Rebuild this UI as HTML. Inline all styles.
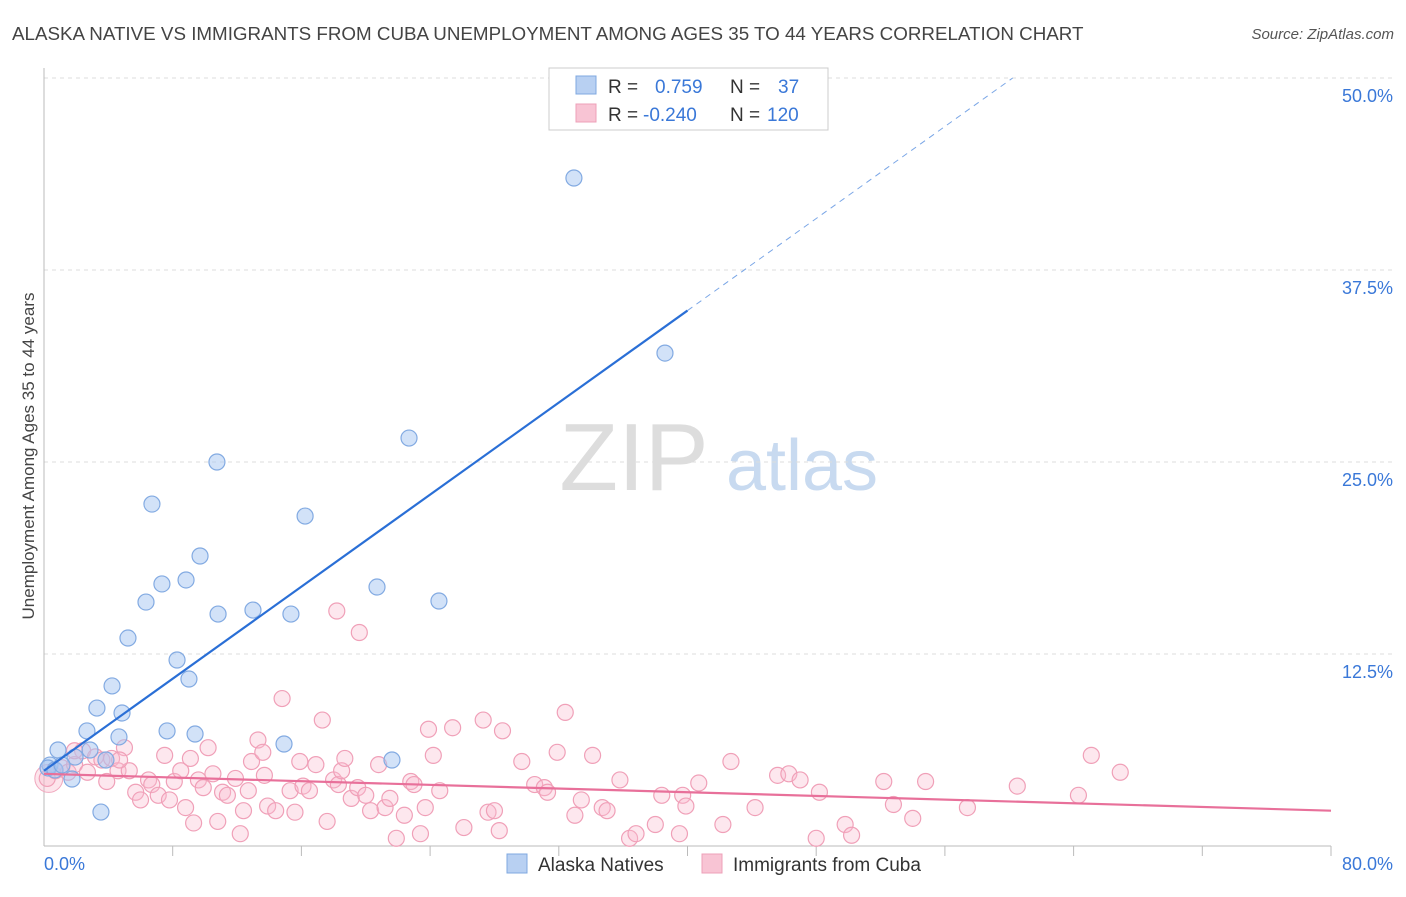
<!DOCTYPE html>
<html><head><meta charset="utf-8"><style>
body{margin:0;background:#fff;font-family:"Liberation Sans",sans-serif;}
svg text{font-family:"Liberation Sans",sans-serif;}
</style></head><body>
<svg id="chart" width="1406" height="892" xmlns="http://www.w3.org/2000/svg">
<text x="12" y="40" font-size="18.8" fill="#444">ALASKA NATIVE VS IMMIGRANTS FROM CUBA UNEMPLOYMENT AMONG AGES 35 TO 44 YEARS CORRELATION CHART</text>
<text x="1394" y="39" font-size="15" fill="#555" text-anchor="end" font-style="italic">Source: ZipAtlas.com</text>
<text transform="translate(34,456) rotate(-90)" font-size="17" fill="#444" text-anchor="middle">Unemployment Among Ages 35 to 44 years</text>
<g>
<text x="634" y="490" font-size="96" fill="#ddd" font-family="Liberation Serif" text-anchor="middle">ZIP</text>
<text x="802" y="490" font-size="72" fill="#c8daf0" text-anchor="middle">atlas</text>
</g>
<g id="grid"></g><g id="axes"></g><g id="pink"></g><g id="blue"></g><g id="lines"></g>
<g>
<rect x="549" y="68" width="279" height="62" fill="#fff" stroke="#ccc"/>
<rect x="576" y="76" width="20" height="18" fill="#b8d0f2" stroke="#7fa8e0"/>
<rect x="576" y="104" width="20" height="18" fill="#f8c4d4" stroke="#eea0b8"/>
<text x="608" y="93" font-size="19" fill="#333">R =</text><text x="655" y="93" font-size="19" fill="#3a78d8">0.759</text>
<text x="730" y="93" font-size="19" fill="#333">N =</text><text x="778" y="93" font-size="19" fill="#3a78d8">37</text>
<text x="608" y="121" font-size="19" fill="#333">R =</text><text x="643" y="121" font-size="19" fill="#3a78d8">-0.240</text>
<text x="730" y="121" font-size="19" fill="#333">N =</text><text x="767" y="121" font-size="19" fill="#3a78d8">120</text>
</g>
<g>
<rect x="507" y="854" width="20" height="19" fill="#b8d0f2" stroke="#7fa8e0"/>
<text x="538" y="871" font-size="19" fill="#333">Alaska Natives</text>
<rect x="702" y="854" width="20" height="19" fill="#f8c4d4" stroke="#eea0b8"/>
<text x="733" y="871" font-size="19" fill="#333">Immigrants from Cuba</text>
</g>
</svg>
<script>
const yTicks=[12.5,25,37.5,50];
const yTickLabels=["12.5%","25.0%","37.5%","50.0%"];
const xTickVals=[8,16,24,32,40,48,56,64,72,80];
const blueX=[0.37,0.87,1.74,1.93,2.67,3.29,3.54,3.85,4.23,4.66,4.85,5.22,6.34,6.71,7.33,7.65,8.27,8.83,9.01,9.39,9.70,10.75,10.82,12.99,14.92,15.35,16.23,20.70,21.63,22.69,24.55,32.94,38.60,0.25,0.68,2.86,1.12];
const blueY=[5.27,6.25,4.36,5.79,7.49,8.98,2.21,5.60,10.42,7.10,8.66,13.54,15.88,22.26,17.06,7.49,12.11,17.32,10.87,7.29,18.88,25.00,15.10,15.36,6.64,15.10,21.48,16.86,5.60,26.56,15.95,43.49,32.09,5.08,4.95,6.25,5.27];
const pinkX=[0.2,0.7,1.1,1.5,1.9,2.4,2.7,3.2,3.6,3.9,4.2,4.6,5.0,5.3,5.7,6.0,6.5,6.7,7.1,7.5,7.8,8.1,8.5,8.8,9.1,9.3,9.6,9.9,10.2,10.5,10.8,11.1,11.4,11.9,12.2,12.4,12.7,12.9,13.3,13.6,13.7,13.9,14.4,14.8,15.3,15.6,15.9,16.1,16.5,16.9,17.3,17.6,18.0,18.3,18.5,18.7,19.1,19.5,19.6,20.0,20.3,20.8,21.2,21.5,21.9,22.4,22.8,23.0,23.4,23.7,23.9,24.2,24.6,25.4,26.1,27.3,27.6,28.0,28.3,28.5,29.7,30.5,31.1,31.3,31.9,32.4,33.0,33.4,34.1,34.7,35.0,35.8,36.4,36.8,38.0,38.4,39.5,39.7,39.9,40.7,42.2,42.7,44.2,45.6,46.3,47.0,48.2,48.0,49.8,50.2,52.2,52.8,54.0,54.8,57.4,60.5,64.3,65.1,66.9,18.2,1.9,4.7];
const pinkY=[4.4,4.9,5.1,4.8,5.3,6.2,4.8,5.8,5.6,4.2,5.7,4.9,6.4,4.9,3.5,3.0,4.3,4.0,3.3,5.9,3.0,4.2,4.9,2.5,5.7,1.5,4.3,3.8,6.4,4.7,1.6,3.5,3.3,4.4,0.8,2.3,3.6,5.5,6.9,6.1,4.6,2.6,2.3,9.6,3.6,2.2,5.5,3.9,3.6,5.3,8.2,1.6,4.3,4.0,4.9,5.7,3.1,3.8,13.9,3.3,2.3,5.3,2.5,3.1,0.5,2.0,4.2,4.0,0.8,2.5,7.6,5.9,3.6,7.7,1.2,8.2,2.2,2.3,1.0,7.5,5.5,4.0,3.8,3.5,6.1,8.7,2.0,3.0,5.9,2.5,2.3,4.3,0.5,0.8,1.4,3.3,0.8,3.3,2.6,4.1,1.4,5.5,2.5,4.6,4.7,4.3,3.5,0.5,1.4,0.7,4.2,2.7,1.8,4.2,2.5,3.9,3.3,5.9,4.8,15.3,6.2,5.6];
const blueFit=[4.9,0.749];
const pinkFit=[4.7,-0.03];
const X0=44,X1=1331,Y0=846,Y50=78;
const sx=v=>X0+(v/80)*(X1-X0);
const sy=v=>Y0-(v/50)*(Y0-Y50);
const NS="http://www.w3.org/2000/svg";
function mk(tag,attrs,parent){const e=document.createElementNS(NS,tag);for(const k in attrs)e.setAttribute(k,attrs[k]);parent.appendChild(e);return e;}
const grid=document.getElementById('grid'),axes=document.getElementById('axes');
yTicks.forEach((t,i)=>{
 const l=mk('line',{x1:X0,x2:1394,y1:sy(t),y2:sy(t),stroke:'#ddd','stroke-dasharray':'4,4'},grid);
 
 
 const tx=mk('text',{x:1393,y:sy(t)+24,'font-size':18,fill:'#3a78d8','text-anchor':'end'},axes);
 tx.textContent=yTickLabels[i];
 
 
});
const ax=mk('line',{x1:X0,x2:X1,y1:Y0,y2:Y0,stroke:'#bbb'},axes);


const ay=mk('line',{x1:X0,x2:X0,y1:68,y2:Y0,stroke:'#bbb'},axes);


xTickVals.forEach(t=>{
 const l=mk('line',{x1:sx(t),x2:sx(t),y1:Y0,y2:Y0+10,stroke:'#bbb'},axes);
 
 
});
const xl0=mk('text',{x:44,y:870,'font-size':18,fill:'#3a78d8'},axes);xl0.textContent='0.0%';


const xl1=mk('text',{x:1393,y:870,'font-size':18,fill:'#3a78d8','text-anchor':'end'},axes);xl1.textContent='80.0%';


const pg=document.getElementById('pink'),bg=document.getElementById('blue');
const big=mk('circle',{cx:sx(0.3),cy:sy(4.4),r:14,fill:'rgba(248,180,200,0.35)',stroke:'#f0a8be'},pg);


pinkX.forEach((x,i)=>{
 const c=mk('circle',{cx:sx(x),cy:sy(pinkY[i]),r:8,fill:'rgba(248,185,205,0.35)',stroke:'#f0a0b8','stroke-width':1.2},pg);
 
 
});
blueX.forEach((x,i)=>{
 const c=mk('circle',{cx:sx(x),cy:sy(blueY[i]),r:8,fill:'rgba(165,198,242,0.5)',stroke:'#82aae2','stroke-width':1.2},bg);
 
 
});
const lg=document.getElementById('lines');
const bEnd=40, bDash=(50-blueFit[0])/blueFit[1];
const bl=mk('line',{x1:sx(0),y1:sy(blueFit[0]),x2:sx(bEnd),y2:sy(blueFit[0]+blueFit[1]*bEnd),stroke:'#2a6fd6','stroke-width':2.2},lg);


const bd=mk('line',{x1:sx(bEnd),y1:sy(blueFit[0]+blueFit[1]*bEnd),x2:sx(bDash),y2:sy(50),stroke:'#7aa6e6','stroke-width':1,'stroke-dasharray':'6,5'},lg);


const pl=mk('line',{x1:sx(0),y1:sy(pinkFit[0]),x2:sx(80),y2:sy(pinkFit[0]+pinkFit[1]*80),stroke:'#e8709a','stroke-width':2.2},lg);


</script>
</body></html>
